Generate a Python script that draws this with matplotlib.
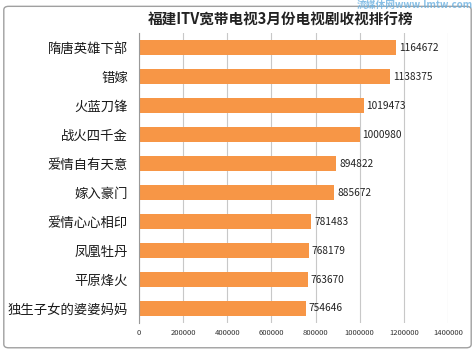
import matplotlib.pyplot as plt
from matplotlib.patches import FancyBboxPatch

plt.rcParams['font.family'] = ['Noto Sans CJK SC', 'DejaVu Sans']

# 剧名（从上到下）与收视数
titles = ['隋唐英雄下部', '错嫁', '火蓝刀锋', '战火四千金', '爱情自有天意',
          '嫁入豪门', '爱情心心相印', '凤凰牡丹', '平原烽火', '独生子女的婆婆妈妈']
views = [1164672, 1138375, 1019473, 1000980, 894822,
         885672, 781483, 768179, 763670, 754646]
xticks = [0, 200000, 400000, 600000, 800000, 1000000, 1200000, 1400000]

fig = plt.figure(figsize=(4.75, 3.52), dpi=100)
ax = fig.add_axes([0.2926, 0.0824, 0.6505, 0.8236])

# 外框
frame = FancyBboxPatch((0.008, 0.012), 0.984, 0.97, boxstyle='round,pad=0,rounding_size=0.01',
                       transform=fig.transFigure, fill=False, edgecolor='#a0a0a0', lw=1.0)
fig.patches.append(frame)

ypos = list(range(len(titles)))[::-1]
ax.barh(ypos, views, height=0.52, color='#F79646', zorder=2)
for y, v in zip(ypos, views):
    ax.text(v + 12000, y, str(v), va='center', ha='left', fontsize=7.3, color='#222222', zorder=3)

ax.set_xlim(0, 1400000)
ax.set_ylim(-0.5, len(titles) - 0.5)
ax.set_xticks(xticks)
ax.set_xticklabels([str(t) for t in xticks], fontsize=5.5, color='#333333')
ax.set_yticks(ypos)
ax.set_yticklabels(titles, fontsize=9.6, color='#1a1a1a')
ax.tick_params(length=0, pad=4)
ax.tick_params(axis='y', pad=8)
ax.grid(axis='x', color='#c8c8c8', lw=0.8, zorder=0)
for s in ['top', 'right', 'bottom']:
    ax.spines[s].set_visible(False)
ax.spines['left'].set_color('#999999')
ax.spines['left'].set_linewidth(0.8)

fig.text(0.59, 0.944, '福建ITV宽带电视3月份电视剧收视排行榜', ha='center', va='center',
         fontsize=10.5, fontweight='bold', color='#222222')
# 水印
fig.text(0.995, 1.0, '流媒体网www.lmtw.com', ha='right', va='top', fontsize=7,
         color='#6ab0e0', alpha=0.8, fontweight='bold')

fig.savefig('out.png', dpi=100)
